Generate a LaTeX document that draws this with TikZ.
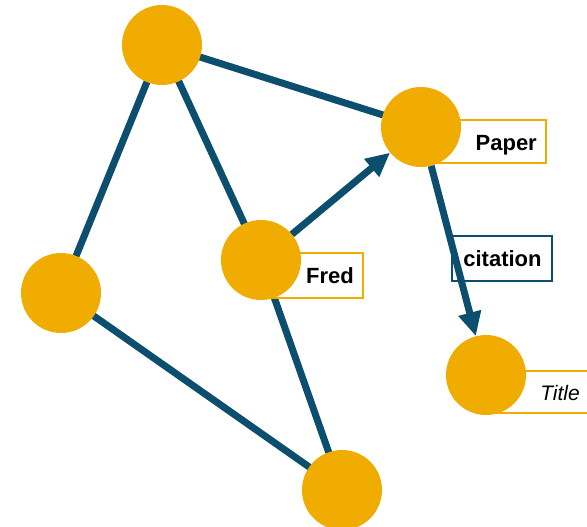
\documentclass[tikz,border=0pt]{standalone}
\usepackage{fontspec}
\setmainfont{Liberation Sans}
\usetikzlibrary{arrows.meta,backgrounds}
\definecolor{gold}{HTML}{F0AC00}
\definecolor{navy}{HTML}{0B4E6E}
\begin{document}
\begin{tikzpicture}[x=1pt,y=-1pt,
  vert/.style={circle,fill=gold,draw=none,minimum size=80pt,inner sep=0pt},
  lbox/.style={draw=gold,line width=2pt,fill=white,rectangle},
  txt/.style={inner sep=0pt,font=\fontsize{22}{24}\selectfont\bfseries},
  tag/.style={draw=navy,line width=2pt,rectangle},
  edge/.style={draw=navy,line width=7pt},
  arr/.style={edge,-{Triangle[length=24pt,width=22pt]}}]
\useasboundingbox (0,0) rectangle (587,527);
% label boxes (behind circles)
\draw[lbox] (435,120) rectangle (546,163);
\draw[lbox] (268,253) rectangle (363,298);
\draw[lbox] (490,371) rectangle (592,413);
\draw[tag] (452,236) rectangle (552,281);
\node[txt,anchor=base east] (tpaper) at (537,150) {Paper};
\node[txt,anchor=base east] (tfred) at (354,283) {Fred};
\node[txt,anchor=base east,font=\fontsize{21}{24}\selectfont\itshape] (ttitle) at (580,400) {Title};
\node[txt,anchor=base] (tcite) at (502.5,266.7) {citation};
% vertices
\node[vert] (a) at (162,45) {};
\node[vert] (paper) at (421,127) {};
\node[vert] (fred) at (261,260) {};
\node[vert] (left) at (61,293) {};
\node[vert] (bottom) at (342,490) {};
\node[vert] (title) at (486,375) {};
% edges
\begin{scope}[on background layer]
\draw[edge] (a.center) -- (paper.center);
\draw[edge] (a.center) -- (left.center);
\draw[edge] (a.center) -- (fred.center);
\draw[edge] (left.center) -- (bottom.center);
\draw[edge] (fred.center) -- (bottom.center);
\end{scope}
\draw[arr] (fred) -- (paper);
\draw[arr] (paper) -- (title);
\end{tikzpicture}
\end{document}
